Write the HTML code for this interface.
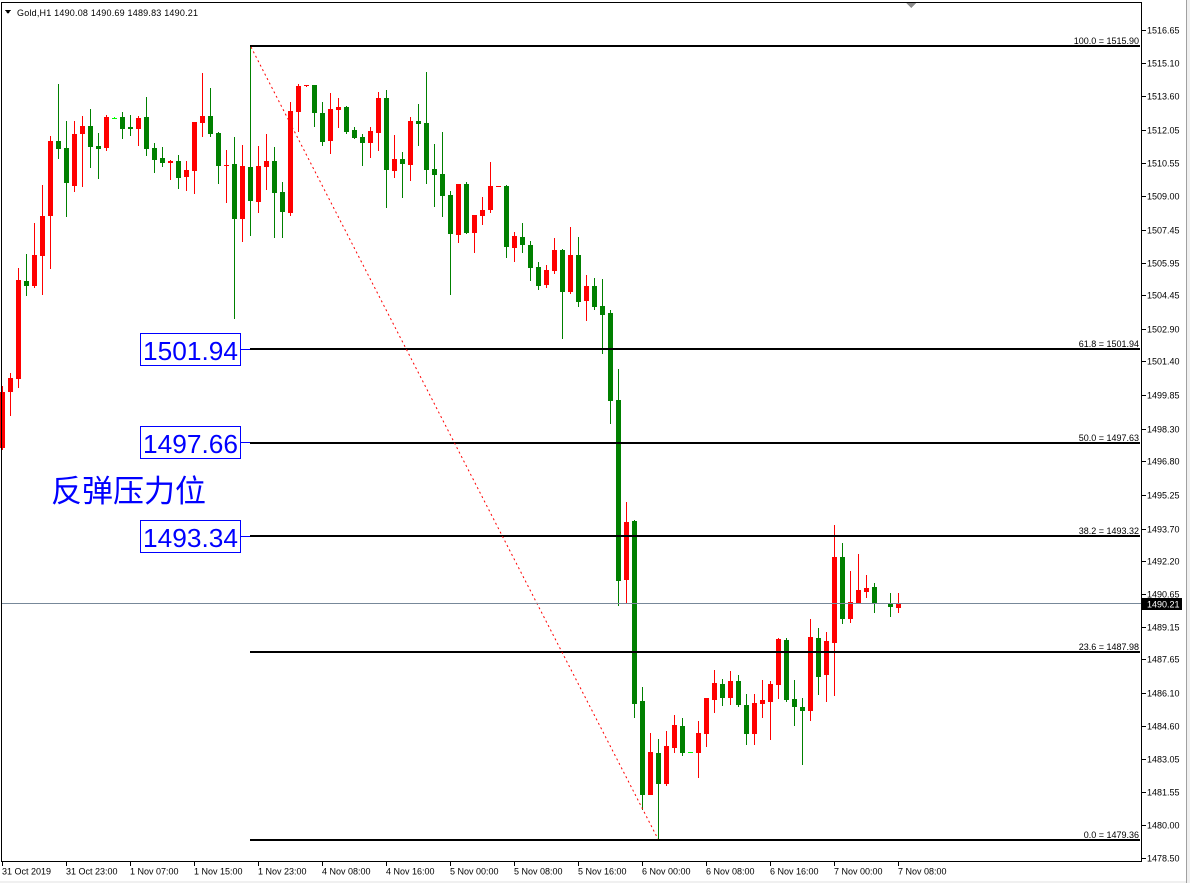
<!DOCTYPE html>
<html>
<head>
<meta charset="utf-8">
<style>
html,body{margin:0;padding:0;background:#fff;}
body{width:1190px;height:883px;overflow:hidden;}
svg{display:block;}
.ax{font-family:"Liberation Sans",Arial,sans-serif;font-size:9px;fill:#000;}
</style>
</head>
<body>
<svg width="1190" height="883" viewBox="0 0 1190 883" xmlns="http://www.w3.org/2000/svg" shape-rendering="crispEdges">
<rect x="0" y="0" width="1190" height="883" fill="#fff"/>
<!-- window edge -->
<rect x="1186" y="0" width="1" height="883" fill="#a0a0a0"/>
<rect x="1187" y="0" width="3" height="883" fill="#f0f0f0"/>
<rect x="0" y="881" width="1186" height="2" fill="#f0f0f0"/>

<!-- red (bullish) candles -->
<g fill="#ff0000">
<rect x="0" y="392" width="5" height="56"/><rect x="2" y="386" width="1" height="64"/>
<rect x="8" y="378" width="5" height="14"/><rect x="10" y="373" width="1" height="43"/>
<rect x="16" y="280" width="5" height="99"/><rect x="18" y="268" width="1" height="120"/>
<rect x="32" y="255" width="5" height="31"/><rect x="34" y="223" width="1" height="65"/>
<rect x="40" y="216" width="5" height="40"/><rect x="42" y="185" width="1" height="110"/>
<rect x="48" y="141" width="5" height="75"/><rect x="50" y="136" width="1" height="133"/>
<rect x="72" y="134" width="5" height="52"/><rect x="74" y="121" width="1" height="71"/>
<rect x="80" y="126" width="5" height="8"/><rect x="82" y="116" width="1" height="71"/>
<rect x="104" y="117" width="5" height="31"/><rect x="106" y="115" width="1" height="36"/>
<rect x="136" y="118" width="5" height="11"/><rect x="138" y="116" width="1" height="30"/>
<rect x="168" y="161" width="5" height="2"/><rect x="170" y="160" width="1" height="20"/>
<rect x="184" y="170" width="5" height="7"/><rect x="186" y="161" width="1" height="30"/>
<rect x="192" y="122" width="5" height="49"/><rect x="194" y="122" width="1" height="72"/>
<rect x="200" y="116" width="5" height="7"/><rect x="202" y="73" width="1" height="64"/>
<rect x="224" y="165" width="5" height="1"/><rect x="226" y="150" width="1" height="53"/>
<rect x="240" y="166" width="5" height="53"/><rect x="242" y="145" width="1" height="97"/>
<rect x="256" y="166" width="5" height="36"/><rect x="258" y="146" width="1" height="67"/>
<rect x="264" y="161" width="5" height="6"/><rect x="266" y="134" width="1" height="56"/>
<rect x="288" y="111" width="5" height="102"/><rect x="290" y="102" width="1" height="114"/>
<rect x="296" y="86" width="5" height="26"/><rect x="298" y="84" width="1" height="48"/>
<rect x="304" y="85" width="5" height="1"/><rect x="306" y="85" width="1" height="2"/>
<rect x="328" y="109" width="5" height="32"/><rect x="330" y="93" width="1" height="61"/>
<rect x="336" y="107" width="5" height="3"/><rect x="338" y="98" width="1" height="30"/>
<rect x="368" y="131" width="5" height="12"/><rect x="370" y="127" width="1" height="31"/>
<rect x="376" y="98" width="5" height="35"/><rect x="378" y="92" width="1" height="59"/>
<rect x="392" y="159" width="5" height="12"/><rect x="394" y="135" width="1" height="43"/>
<rect x="408" y="121" width="5" height="44"/><rect x="410" y="117" width="1" height="64"/>
<rect x="456" y="184" width="5" height="51"/><rect x="458" y="184" width="1" height="59"/>
<rect x="472" y="215" width="5" height="18"/><rect x="474" y="215" width="1" height="38"/>
<rect x="480" y="210" width="5" height="6"/><rect x="482" y="197" width="1" height="28"/>
<rect x="488" y="186" width="5" height="24"/><rect x="490" y="162" width="1" height="51"/>
<rect x="496" y="186" width="5" height="1"/>
<rect x="512" y="236" width="5" height="12"/><rect x="514" y="232" width="1" height="30"/>
<rect x="544" y="270" width="5" height="15"/><rect x="546" y="265" width="1" height="23"/>
<rect x="552" y="250" width="5" height="21"/><rect x="554" y="238" width="1" height="36"/>
<rect x="568" y="255" width="5" height="37"/><rect x="570" y="227" width="1" height="67"/>
<rect x="584" y="286" width="5" height="15"/><rect x="586" y="275" width="1" height="46"/>
<rect x="624" y="522" width="5" height="58"/><rect x="626" y="502" width="1" height="101"/>
<rect x="648" y="752" width="5" height="43"/><rect x="650" y="733" width="1" height="62"/>
<rect x="664" y="746" width="5" height="38"/><rect x="666" y="731" width="1" height="55"/>
<rect x="672" y="725" width="5" height="23"/><rect x="674" y="715" width="1" height="38"/>
<rect x="696" y="733" width="5" height="20"/><rect x="698" y="721" width="1" height="57"/>
<rect x="704" y="698" width="5" height="36"/><rect x="706" y="698" width="1" height="49"/>
<rect x="712" y="683" width="5" height="17"/><rect x="714" y="670" width="1" height="43"/>
<rect x="728" y="681" width="5" height="17"/><rect x="730" y="671" width="1" height="34"/>
<rect x="752" y="703" width="5" height="31"/><rect x="754" y="694" width="1" height="51"/>
<rect x="760" y="700" width="5" height="4"/><rect x="762" y="680" width="1" height="38"/>
<rect x="768" y="684" width="5" height="18"/><rect x="770" y="681" width="1" height="59"/>
<rect x="776" y="639" width="5" height="46"/><rect x="778" y="638" width="1" height="61"/>
<rect x="808" y="637" width="5" height="74"/><rect x="810" y="619" width="1" height="102"/>
<rect x="824" y="641" width="5" height="34"/><rect x="826" y="632" width="1" height="70"/>
<rect x="832" y="557" width="5" height="86"/><rect x="834" y="525" width="1" height="171"/>
<rect x="848" y="602" width="5" height="17"/><rect x="850" y="571" width="1" height="52"/>
<rect x="856" y="590" width="5" height="14"/><rect x="858" y="554" width="1" height="50"/>
<rect x="864" y="588" width="5" height="4"/><rect x="866" y="575" width="1" height="23"/>
<rect x="896" y="604" width="5" height="4"/><rect x="898" y="593" width="1" height="20"/>
</g>

<!-- green (bearish) candles -->
<g fill="#008000">
<rect x="24" y="281" width="5" height="5"/><rect x="26" y="254" width="1" height="42"/>
<rect x="56" y="141" width="5" height="8"/><rect x="58" y="84" width="1" height="75"/>
<rect x="64" y="148" width="5" height="35"/><rect x="66" y="121" width="1" height="96"/>
<rect x="88" y="126" width="5" height="21"/><rect x="90" y="109" width="1" height="59"/>
<rect x="96" y="146" width="5" height="3"/><rect x="98" y="133" width="1" height="46"/>
<rect x="120" y="117" width="5" height="12"/><rect x="122" y="112" width="1" height="27"/>
<rect x="128" y="127" width="5" height="2"/><rect x="130" y="115" width="1" height="21"/>
<rect x="144" y="117" width="5" height="32"/><rect x="146" y="97" width="1" height="59"/>
<rect x="152" y="148" width="5" height="12"/><rect x="154" y="143" width="1" height="30"/>
<rect x="160" y="158" width="5" height="5"/><rect x="162" y="147" width="1" height="20"/>
<rect x="176" y="161" width="5" height="17"/><rect x="178" y="155" width="1" height="34"/>
<rect x="208" y="116" width="5" height="18"/><rect x="210" y="88" width="1" height="49"/>
<rect x="216" y="133" width="5" height="33"/><rect x="218" y="132" width="1" height="52"/>
<rect x="232" y="164" width="5" height="55"/><rect x="234" y="137" width="1" height="182"/>
<rect x="248" y="167" width="5" height="34"/><rect x="250" y="46" width="1" height="190"/>
<rect x="272" y="161" width="5" height="32"/><rect x="274" y="147" width="1" height="91"/>
<rect x="280" y="192" width="5" height="20"/><rect x="282" y="182" width="1" height="56"/>
<rect x="312" y="85" width="5" height="28"/><rect x="314" y="85" width="1" height="42"/>
<rect x="320" y="113" width="5" height="29"/><rect x="322" y="102" width="1" height="44"/>
<rect x="344" y="107" width="5" height="25"/><rect x="346" y="106" width="1" height="28"/>
<rect x="352" y="130" width="5" height="8"/><rect x="354" y="127" width="1" height="12"/>
<rect x="360" y="137" width="5" height="6"/><rect x="362" y="134" width="1" height="32"/>
<rect x="384" y="98" width="5" height="72"/><rect x="386" y="90" width="1" height="118"/>
<rect x="400" y="159" width="5" height="5"/><rect x="402" y="152" width="1" height="46"/>
<rect x="416" y="121" width="5" height="3"/><rect x="418" y="104" width="1" height="42"/>
<rect x="424" y="123" width="5" height="47"/><rect x="426" y="72" width="1" height="112"/>
<rect x="432" y="169" width="5" height="6"/><rect x="434" y="144" width="1" height="63"/>
<rect x="440" y="174" width="5" height="22"/><rect x="442" y="132" width="1" height="85"/>
<rect x="448" y="195" width="5" height="39"/><rect x="450" y="191" width="1" height="104"/>
<rect x="464" y="184" width="5" height="49"/><rect x="466" y="182" width="1" height="52"/>
<rect x="504" y="186" width="5" height="61"/><rect x="506" y="185" width="1" height="73"/>
<rect x="520" y="237" width="5" height="8"/><rect x="522" y="223" width="1" height="30"/>
<rect x="528" y="245" width="5" height="23"/><rect x="530" y="241" width="1" height="40"/>
<rect x="536" y="267" width="5" height="19"/><rect x="538" y="262" width="1" height="28"/>
<rect x="560" y="250" width="5" height="42"/><rect x="562" y="249" width="1" height="90"/>
<rect x="576" y="255" width="5" height="47"/><rect x="578" y="237" width="1" height="70"/>
<rect x="592" y="286" width="5" height="21"/><rect x="594" y="278" width="1" height="32"/>
<rect x="600" y="306" width="5" height="9"/><rect x="602" y="279" width="1" height="75"/>
<rect x="608" y="313" width="5" height="88"/><rect x="610" y="310" width="1" height="114"/>
<rect x="616" y="400" width="5" height="181"/><rect x="618" y="369" width="1" height="237"/>
<rect x="632" y="521" width="5" height="183"/><rect x="634" y="520" width="1" height="198"/>
<rect x="640" y="701" width="5" height="94"/><rect x="642" y="687" width="1" height="123"/>
<rect x="656" y="753" width="5" height="31"/><rect x="658" y="739" width="1" height="101"/>
<rect x="680" y="726" width="5" height="27"/><rect x="682" y="718" width="1" height="38"/>
<rect x="720" y="684" width="5" height="14"/><rect x="722" y="679" width="1" height="27"/>
<rect x="736" y="681" width="5" height="24"/><rect x="738" y="675" width="1" height="32"/>
<rect x="744" y="705" width="5" height="29"/><rect x="746" y="694" width="1" height="51"/>
<rect x="784" y="640" width="5" height="60"/><rect x="786" y="638" width="1" height="64"/>
<rect x="792" y="699" width="5" height="8"/><rect x="794" y="680" width="1" height="46"/>
<rect x="800" y="707" width="5" height="4"/><rect x="802" y="698" width="1" height="67"/>
<rect x="816" y="638" width="5" height="39"/><rect x="818" y="628" width="1" height="67"/>
<rect x="840" y="557" width="5" height="62"/><rect x="842" y="543" width="1" height="81"/>
<rect x="872" y="587" width="5" height="17"/><rect x="874" y="583" width="1" height="30"/>
<rect x="888" y="603" width="5" height="4"/><rect x="890" y="593" width="1" height="24"/>
</g>

<!-- doji -->
<g fill="#00ff00">
<rect x="112" y="118" width="5" height="1"/><rect x="114" y="117" width="1" height="2"/>
<rect x="688" y="752" width="5" height="1"/>
<rect x="880" y="603" width="5" height="1"/>
</g>

<!-- fibo levels -->
<g fill="#000">
<rect x="250" y="45" width="890" height="2"/>
<rect x="250" y="348" width="890" height="2"/>
<rect x="250" y="442" width="890" height="2"/>
<rect x="250" y="535" width="890" height="2"/>
<rect x="250" y="651" width="890" height="2"/>
<rect x="250" y="839" width="890" height="2"/>
</g>
<g class="ax" text-anchor="end">
<text x="1139" y="44">100.0 = 1515.90</text>
<text x="1139" y="347">61.8 = 1501.94</text>
<text x="1139" y="441">50.0 = 1497.63</text>
<text x="1139" y="534">38.2 = 1493.32</text>
<text x="1139" y="650">23.6 = 1487.98</text>
<text x="1139" y="838">0.0 = 1479.36</text>
</g>

<!-- fibo trend dotted line -->
<line x1="251" y1="47" x2="658" y2="839" stroke="#ff0000" stroke-width="1" stroke-dasharray="2 3" shape-rendering="auto"/>

<!-- current price line -->
<rect x="1" y="603" width="1140" height="1" fill="#778899"/>

<!-- blue annotations -->
<g fill="none" stroke="#0000ff" stroke-width="1">
<rect x="140.5" y="333.5" width="100" height="32" fill="#fff"/>
<rect x="140.5" y="426.5" width="100" height="32" fill="#fff"/>
<rect x="140.5" y="520.5" width="100" height="32" fill="#fff"/>
</g>
<g fill="#0000ff">
<rect x="241" y="349" width="9" height="1"/>
<rect x="241" y="442" width="9" height="1"/>
<rect x="241" y="536" width="9" height="1"/>
</g>
<g font-family="'Liberation Sans', Arial, sans-serif" font-size="25.5" fill="#0000ff">
<text x="143" y="360" textLength="95" lengthAdjust="spacingAndGlyphs">1501.94</text>
<text x="143" y="453" textLength="95" lengthAdjust="spacingAndGlyphs">1497.66</text>
<text x="143" y="547" textLength="95" lengthAdjust="spacingAndGlyphs">1493.34</text>
</g>
<text x="51" y="502" font-family="'Liberation Sans','Noto Sans CJK SC','WenQuanYi Zen Hei',sans-serif" font-size="31" fill="#0000ff" textLength="155" lengthAdjust="spacingAndGlyphs">反弹压力位</text>

<!-- frame -->
<rect x="1" y="2" width="1141" height="1" fill="#000"/>
<rect x="1" y="2" width="1" height="860" fill="#000"/>
<rect x="1141" y="2" width="1" height="860" fill="#000"/>
<rect x="1" y="861" width="1141" height="1" fill="#000"/>

<!-- shift marker -->
<polygon points="906,3 916,3 911,8" fill="#8c8c8c"/>

<!-- header -->
<polygon points="5,10 11,10 8,14" fill="#000"/>
<text class="ax" x="17" y="16" textLength="181" lengthAdjust="spacing">Gold,H1  1490.08 1490.69 1489.83 1490.21</text>

<!-- price axis ticks -->
<g fill="#000">
<rect x="1142" y="30" width="4" height="1"/>
<rect x="1142" y="63" width="4" height="1"/>
<rect x="1142" y="96" width="4" height="1"/>
<rect x="1142" y="130" width="4" height="1"/>
<rect x="1142" y="163" width="4" height="1"/>
<rect x="1142" y="196" width="4" height="1"/>
<rect x="1142" y="230" width="4" height="1"/>
<rect x="1142" y="263" width="4" height="1"/>
<rect x="1142" y="295" width="4" height="1"/>
<rect x="1142" y="329" width="4" height="1"/>
<rect x="1142" y="361" width="4" height="1"/>
<rect x="1142" y="395" width="4" height="1"/>
<rect x="1142" y="429" width="4" height="1"/>
<rect x="1142" y="461" width="4" height="1"/>
<rect x="1142" y="495" width="4" height="1"/>
<rect x="1142" y="529" width="4" height="1"/>
<rect x="1142" y="561" width="4" height="1"/>
<rect x="1142" y="594" width="4" height="1"/>
<rect x="1142" y="627" width="4" height="1"/>
<rect x="1142" y="659" width="4" height="1"/>
<rect x="1142" y="693" width="4" height="1"/>
<rect x="1142" y="726" width="4" height="1"/>
<rect x="1142" y="759" width="4" height="1"/>
<rect x="1142" y="792" width="4" height="1"/>
<rect x="1142" y="825" width="4" height="1"/>
<rect x="1142" y="858" width="4" height="1"/>
</g>
<g class="ax">
<text x="1147" y="33.5">1516.65</text>
<text x="1147" y="66.5">1515.10</text>
<text x="1147" y="99.5">1513.60</text>
<text x="1147" y="133.5">1512.05</text>
<text x="1147" y="166.5">1510.55</text>
<text x="1147" y="199.5">1509.00</text>
<text x="1147" y="233.5">1507.45</text>
<text x="1147" y="266.5">1505.95</text>
<text x="1147" y="298.5">1504.45</text>
<text x="1147" y="332.5">1502.90</text>
<text x="1147" y="364.5">1501.40</text>
<text x="1147" y="398.5">1499.85</text>
<text x="1147" y="432.5">1498.30</text>
<text x="1147" y="464.5">1496.80</text>
<text x="1147" y="498.5">1495.25</text>
<text x="1147" y="532.5">1493.70</text>
<text x="1147" y="564.5">1492.20</text>
<text x="1147" y="597.5">1490.65</text>
<text x="1147" y="630.5">1489.15</text>
<text x="1147" y="662.5">1487.65</text>
<text x="1147" y="696.5">1486.10</text>
<text x="1147" y="729.5">1484.60</text>
<text x="1147" y="762.5">1483.05</text>
<text x="1147" y="795.5">1481.55</text>
<text x="1147" y="828.5">1480.00</text>
<text x="1147" y="861.5">1478.50</text>
</g>

<!-- current price box -->
<rect x="1142" y="598" width="40" height="12" fill="#000"/>
<text x="1147" y="607.5" font-family="'Liberation Sans', Arial, sans-serif" font-size="9" fill="#fff">1490.21</text>

<!-- time axis -->
<g fill="#000">
<rect x="2" y="862" width="1" height="4"/>
<rect x="66" y="862" width="1" height="4"/>
<rect x="130" y="862" width="1" height="4"/>
<rect x="194" y="862" width="1" height="4"/>
<rect x="258" y="862" width="1" height="4"/>
<rect x="322" y="862" width="1" height="4"/>
<rect x="386" y="862" width="1" height="4"/>
<rect x="450" y="862" width="1" height="4"/>
<rect x="514" y="862" width="1" height="4"/>
<rect x="578" y="862" width="1" height="4"/>
<rect x="642" y="862" width="1" height="4"/>
<rect x="706" y="862" width="1" height="4"/>
<rect x="770" y="862" width="1" height="4"/>
<rect x="834" y="862" width="1" height="4"/>
<rect x="898" y="862" width="1" height="4"/>
</g>
<g class="ax">
<text x="2" y="874.5">31 Oct 2019</text>
<text x="66" y="874.5">31 Oct 23:00</text>
<text x="130" y="874.5">1 Nov 07:00</text>
<text x="194" y="874.5">1 Nov 15:00</text>
<text x="258" y="874.5">1 Nov 23:00</text>
<text x="322" y="874.5">4 Nov 08:00</text>
<text x="386" y="874.5">4 Nov 16:00</text>
<text x="450" y="874.5">5 Nov 00:00</text>
<text x="514" y="874.5">5 Nov 08:00</text>
<text x="578" y="874.5">5 Nov 16:00</text>
<text x="642" y="874.5">6 Nov 00:00</text>
<text x="706" y="874.5">6 Nov 08:00</text>
<text x="770" y="874.5">6 Nov 16:00</text>
<text x="834" y="874.5">7 Nov 00:00</text>
<text x="898" y="874.5">7 Nov 08:00</text>
</g>
</svg>
</body>
</html>
